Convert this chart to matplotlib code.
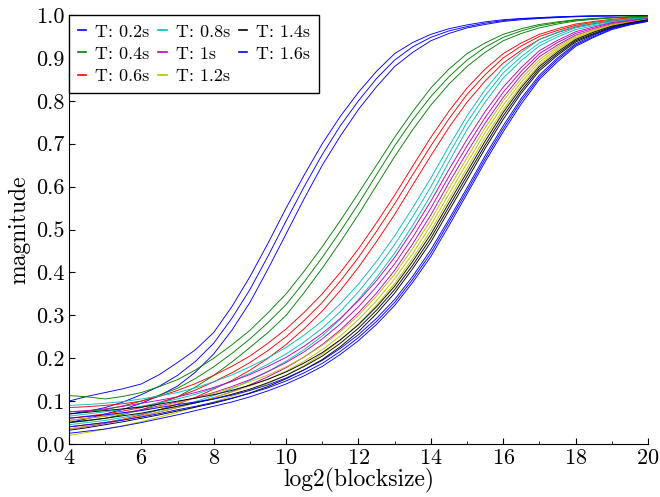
import numpy as np
import matplotlib
matplotlib.use('Agg')
import matplotlib.pyplot as plt
from matplotlib.ticker import MultipleLocator, FormatStrFormatter

plt.rcParams['font.family'] = ['cmr10', 'DejaVu Serif']
plt.rcParams['axes.formatter.use_mathtext'] = True

# log2(blocksize) from 4 to 20 in half steps
log2_blocksize = np.arange(4, 20.5, 0.5)

# three runs per period T
t02 = [
    [0.100, 0.111, 0.120, 0.129, 0.140, 0.162, 0.190, 0.220, 0.260, 0.320, 0.390, 0.468, 0.550, 0.627, 0.700, 0.764, 0.820,
     0.869, 0.910, 0.936, 0.955, 0.968, 0.977, 0.984, 0.989, 0.992, 0.994, 0.996, 0.997, 0.998, 0.998, 0.999, 0.999],
    [0.070, 0.076, 0.085, 0.098, 0.115, 0.135, 0.160, 0.193, 0.235, 0.293, 0.360, 0.438, 0.520, 0.600, 0.675, 0.742, 0.800,
     0.852, 0.895, 0.926, 0.948, 0.963, 0.973, 0.981, 0.987, 0.991, 0.993, 0.995, 0.997, 0.998, 0.998, 0.999, 0.999],
    [0.050, 0.059, 0.070, 0.081, 0.095, 0.113, 0.135, 0.168, 0.210, 0.265, 0.330, 0.408, 0.490, 0.572, 0.650, 0.718, 0.780,
     0.833, 0.880, 0.913, 0.940, 0.957, 0.970, 0.978, 0.985, 0.989, 0.992, 0.994, 0.996, 0.997, 0.998, 0.999, 0.999],
]
t04 = [
    [0.113, 0.110, 0.105, 0.111, 0.120, 0.134, 0.150, 0.173, 0.200, 0.231, 0.265, 0.306, 0.350, 0.403, 0.460, 0.521, 0.585,
     0.650, 0.715, 0.775, 0.830, 0.874, 0.910, 0.935, 0.955, 0.968, 0.978, 0.984, 0.989, 0.992, 0.994, 0.996, 0.997],
    [0.075, 0.077, 0.080, 0.089, 0.100, 0.114, 0.130, 0.153, 0.180, 0.211, 0.245, 0.283, 0.325, 0.378, 0.435, 0.496, 0.560,
     0.628, 0.695, 0.756, 0.810, 0.856, 0.895, 0.925, 0.948, 0.963, 0.975, 0.982, 0.988, 0.991, 0.994, 0.996, 0.997],
    [0.050, 0.054, 0.060, 0.069, 0.080, 0.094, 0.110, 0.133, 0.160, 0.191, 0.225, 0.260, 0.300, 0.353, 0.410, 0.471, 0.535,
     0.603, 0.670, 0.733, 0.790, 0.839, 0.880, 0.913, 0.940, 0.957, 0.970, 0.979, 0.986, 0.990, 0.993, 0.995, 0.996],
]
t06 = [
    [0.085, 0.087, 0.090, 0.094, 0.100, 0.111, 0.125, 0.141, 0.160, 0.181, 0.205, 0.235, 0.268, 0.307, 0.350, 0.400, 0.455,
     0.516, 0.580, 0.648, 0.715, 0.776, 0.830, 0.874, 0.910, 0.935, 0.955, 0.968, 0.979, 0.985, 0.990, 0.993, 0.995],
    [0.060, 0.065, 0.070, 0.077, 0.085, 0.097, 0.110, 0.126, 0.145, 0.166, 0.190, 0.218, 0.250, 0.288, 0.330, 0.380, 0.435,
     0.496, 0.560, 0.628, 0.695, 0.758, 0.815, 0.861, 0.900, 0.928, 0.950, 0.964, 0.976, 0.983, 0.988, 0.991, 0.994],
    [0.040, 0.045, 0.050, 0.058, 0.068, 0.080, 0.093, 0.109, 0.128, 0.148, 0.172, 0.200, 0.232, 0.269, 0.310, 0.358, 0.412,
     0.472, 0.535, 0.604, 0.672, 0.738, 0.797, 0.846, 0.888, 0.918, 0.943, 0.959, 0.972, 0.980, 0.986, 0.990, 0.993],
]
t08 = [
    [0.090, 0.092, 0.095, 0.099, 0.105, 0.112, 0.120, 0.131, 0.145, 0.161, 0.180, 0.201, 0.225, 0.254, 0.287, 0.327, 0.373,
     0.426, 0.485, 0.551, 0.620, 0.694, 0.765, 0.826, 0.877, 0.913, 0.943, 0.960, 0.974, 0.982, 0.988, 0.991, 0.994],
    [0.065, 0.070, 0.075, 0.081, 0.088, 0.096, 0.105, 0.116, 0.130, 0.146, 0.165, 0.186, 0.210, 0.238, 0.270, 0.309, 0.355,
     0.407, 0.465, 0.530, 0.600, 0.676, 0.750, 0.812, 0.865, 0.903, 0.935, 0.954, 0.970, 0.978, 0.985, 0.989, 0.993],
    [0.045, 0.050, 0.055, 0.062, 0.070, 0.079, 0.088, 0.099, 0.113, 0.129, 0.148, 0.169, 0.193, 0.220, 0.252, 0.291, 0.337,
     0.388, 0.445, 0.510, 0.580, 0.658, 0.733, 0.797, 0.853, 0.894, 0.928, 0.949, 0.966, 0.975, 0.983, 0.988, 0.992],
]
t10 = [
    [0.075, 0.078, 0.082, 0.088, 0.095, 0.102, 0.110, 0.120, 0.132, 0.146, 0.162, 0.181, 0.202, 0.228, 0.258, 0.293, 0.334,
     0.381, 0.435, 0.498, 0.566, 0.640, 0.710, 0.775, 0.832, 0.878, 0.917, 0.941, 0.961, 0.972, 0.982, 0.987, 0.992],
    [0.055, 0.060, 0.065, 0.072, 0.080, 0.089, 0.098, 0.108, 0.120, 0.134, 0.150, 0.169, 0.190, 0.215, 0.245, 0.280, 0.320,
     0.367, 0.420, 0.482, 0.550, 0.624, 0.695, 0.761, 0.820, 0.869, 0.910, 0.936, 0.957, 0.969, 0.980, 0.986, 0.991],
    [0.035, 0.041, 0.048, 0.056, 0.065, 0.075, 0.085, 0.096, 0.108, 0.122, 0.138, 0.157, 0.178, 0.203, 0.232, 0.266, 0.306,
     0.352, 0.405, 0.467, 0.534, 0.609, 0.680, 0.748, 0.808, 0.860, 0.903, 0.930, 0.953, 0.966, 0.978, 0.984, 0.990],
]
t12 = [
    [0.055, 0.060, 0.065, 0.071, 0.078, 0.087, 0.096, 0.107, 0.118, 0.131, 0.145, 0.161, 0.180, 0.203, 0.230, 0.262, 0.300,
     0.345, 0.396, 0.456, 0.522, 0.596, 0.667, 0.737, 0.800, 0.852, 0.896, 0.926, 0.951, 0.966, 0.978, 0.984, 0.990],
    [0.035, 0.042, 0.050, 0.057, 0.065, 0.075, 0.085, 0.096, 0.108, 0.121, 0.135, 0.151, 0.170, 0.193, 0.220, 0.252, 0.290,
     0.334, 0.385, 0.444, 0.510, 0.583, 0.655, 0.726, 0.790, 0.844, 0.890, 0.922, 0.948, 0.963, 0.976, 0.983, 0.989],
    [0.020, 0.027, 0.035, 0.043, 0.052, 0.063, 0.074, 0.086, 0.098, 0.111, 0.125, 0.141, 0.160, 0.183, 0.210, 0.242, 0.280,
     0.324, 0.374, 0.433, 0.498, 0.571, 0.643, 0.715, 0.780, 0.836, 0.884, 0.918, 0.945, 0.961, 0.974, 0.982, 0.988],
]
t14 = [
    [0.070, 0.074, 0.078, 0.082, 0.086, 0.093, 0.100, 0.107, 0.115, 0.125, 0.137, 0.151, 0.168, 0.189, 0.213, 0.243, 0.278,
     0.320, 0.368, 0.426, 0.489, 0.562, 0.634, 0.706, 0.773, 0.831, 0.880, 0.914, 0.943, 0.960, 0.974, 0.982, 0.989],
    [0.050, 0.055, 0.060, 0.066, 0.072, 0.080, 0.088, 0.096, 0.105, 0.116, 0.128, 0.143, 0.160, 0.181, 0.205, 0.235, 0.270,
     0.312, 0.360, 0.417, 0.480, 0.553, 0.625, 0.697, 0.765, 0.824, 0.875, 0.910, 0.940, 0.957, 0.972, 0.981, 0.988],
    [0.032, 0.038, 0.045, 0.052, 0.060, 0.068, 0.077, 0.086, 0.095, 0.106, 0.119, 0.134, 0.152, 0.173, 0.197, 0.227, 0.262,
     0.304, 0.352, 0.409, 0.471, 0.544, 0.616, 0.689, 0.757, 0.818, 0.870, 0.906, 0.937, 0.955, 0.970, 0.979, 0.987],
]
t16 = [
    [0.060, 0.064, 0.068, 0.073, 0.078, 0.085, 0.092, 0.098, 0.105, 0.114, 0.125, 0.138, 0.154, 0.173, 0.195, 0.223, 0.255,
     0.293, 0.337, 0.391, 0.453, 0.524, 0.597, 0.672, 0.742, 0.806, 0.860, 0.900, 0.933, 0.953, 0.970, 0.979, 0.987],
    [0.040, 0.045, 0.050, 0.056, 0.063, 0.071, 0.080, 0.088, 0.097, 0.107, 0.118, 0.131, 0.147, 0.166, 0.188, 0.216, 0.248,
     0.286, 0.330, 0.384, 0.445, 0.517, 0.590, 0.665, 0.735, 0.800, 0.855, 0.896, 0.930, 0.950, 0.968, 0.978, 0.986],
    [0.025, 0.030, 0.035, 0.042, 0.050, 0.059, 0.068, 0.078, 0.088, 0.098, 0.110, 0.124, 0.140, 0.159, 0.181, 0.209, 0.241,
     0.279, 0.323, 0.377, 0.437, 0.509, 0.583, 0.658, 0.728, 0.793, 0.850, 0.891, 0.927, 0.948, 0.966, 0.977, 0.985],
]

periods = ['0.2s', '0.4s', '0.6s', '0.8s', '1s', '1.2s', '1.4s', '1.6s']
runs = [t02, t04, t06, t08, t10, t12, t14, t16]
colors = ['b', 'g', 'r', 'c', 'm', 'y', 'k', 'b']

fig = plt.figure(figsize=(6.6, 4.97), dpi=100)
ax = fig.add_axes([0.1045, 0.1066, 0.8773, 0.8632])

for period, curves, col in zip(periods, runs, colors):
    for i, mag in enumerate(curves):
        ax.plot(log2_blocksize, mag, color=col, lw=0.65,
                label='T: ' + period if i == 0 else None)

ax.set_xlim(4, 20)
ax.set_ylim(0, 1)
ax.xaxis.set_major_locator(MultipleLocator(2))
ax.xaxis.set_minor_locator(MultipleLocator(1))
ax.yaxis.set_major_locator(MultipleLocator(0.1))
ax.yaxis.set_major_formatter(FormatStrFormatter('%.1f'))

ax.spines['top'].set_visible(False)
ax.spines['right'].set_visible(False)
ax.tick_params(which='both', direction='in', top=False, right=False,
               labelsize=16, pad=3)
ax.tick_params(which='major', length=4)
ax.tick_params(which='minor', length=2)

ax.set_xlabel('log2(blocksize)', fontsize=17, labelpad=0)
ax.set_ylabel('magnitude', fontsize=17, labelpad=4)

leg = ax.legend(loc='upper left', ncol=3, fontsize=13, handlelength=0.45,
                handletextpad=0.5, columnspacing=0.5, borderaxespad=0.0,
                fancybox=False, framealpha=1.0, borderpad=0.5, labelspacing=0.36)
leg.get_frame().set_edgecolor('black')
leg.get_frame().set_linewidth(1.0)
for handle in leg.get_lines():
    handle.set_linewidth(1.2)

fig.savefig('out.png', dpi=100)
